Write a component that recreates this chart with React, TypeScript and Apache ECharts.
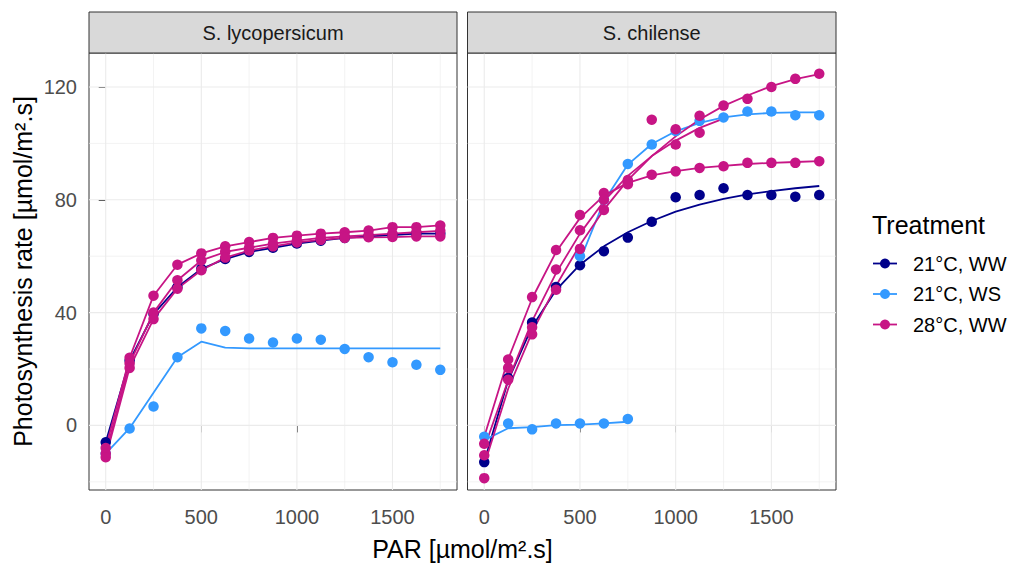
import React, { useEffect, useRef } from "react";
import * as echarts from "echarts";

const FONT = "'Liberation Sans', Arial, sans-serif";

// PAR levels (x)
const PAR = [0, 125, 250, 375, 500, 625, 750, 875, 1000, 1125, 1250, 1375, 1500, 1625, 1750];
const X_TICKS = [0, 500, 1000, 1500];
const X_MINOR = [250, 750, 1250, 1750];
const Y_TICKS = [0, 40, 80, 120];
const Y_MINOR = [-20, 20, 60, 100];
const PANELS = ["S. lycopersicum", "S. chilense"];
const TREATMENTS = ["21°C, WW", "21°C, WS", "28°C, WW"];
const COLORS = ["#00008B", "#3399FF", "#C71585"];

// ---- S. lycopersicum ----
const LY_WW = [-6, 23, 39.5, 49, 55.5, 59, 61.5, 63, 64.5, 65.5, 66.5, 67, 67.5, 68, 68];
const LY_WS_PTS = [-10, -1.1, 6.7, 24.2, 34.4, 33.5, 30.8, 29.4, 30.8, 30.4, 27.1, 24.2, 22.4, 21.5, 19.7];
const LY_WS_FIT = [-10, -1, 11.6, 24.2, 29.7, 27.6, 27.3, 27.3, 27.3, 27.3, 27.3, 27.3, 27.3, 27.3, 27.3];
const LY_HOT_A = [-8, 24, 46, 57, 61, 63.5, 65, 66.5, 67.3, 68, 68.5, 69.1, 70.3, 70.3, 70.9];
const LY_HOT_B = [-10, 22, 40, 51.5, 58.5, 61.5, 63, 64.5, 65.5, 66.5, 67, 67.5, 68, 68.5, 69];
const LY_HOT_C = [-11.3, 20.4, 37.7, 48.5, 55, 59.5, 62, 63.5, 64.9, 65.8, 66.5, 66.7, 66.8, 67, 67];

// ---- S. chilense ----
const CH_WW_PTS = [-13, 16.8, 36.5, 49.1, 56.8, 61.8, 66.6, 72.2, 80.9, 81.7, 84.1, 81.7, 81.7, 81.1, 81.7];
const CH_WW_FIT = [-13, 16, 35, 48, 57, 63.5, 68.5, 72.5, 75.8, 78.3, 80.3, 81.9, 83.1, 84.1, 84.9];
const CH_WS_LOW_PTS = [-4, 0.7, -1.4, 0.7, 0.7, 0.7, 2.3];
const CH_WS_LOW_FIT = [-5.2, -1, -0.6, 0.1, 0.3, 0.7, 1.3];
const CH_WS_HIGH_PTS = [null, null, null, null, 60, 80, 92.7, 99.6, 104.4, 108, 109.2, 111.3, 111.3, 110, 110];
const CH_WS_HIGH_FIT = [null, null, null, null, 58.5, 79.4, 92.5, 99.8, 104.3, 107.3, 109.2, 110.3, 110.8, 111, 111];
const CH_HOT_A_PTS = [-6.5, 23.4, 45.5, 62.2, 74.6, 82.4, 86, 88.9, 90.1, 91.3, 91.9, 93.1, 93.1, 93.1, 93.7];
const CH_HOT_A_FIT = [-4, 23.5, 45, 61.5, 73.5, 81.5, 86, 88.7, 90.2, 91.3, 92, 92.7, 93.1, 93.4, 93.7];
const CH_HOT_B_PTS = [-18.7, 16.2, 32.3, 48.1, 62.6, 76.4, 87, null, 105, 109.8, 113.4, 115.8, 120, 122.9, 124.7];
const CH_HOT_B_FIT = [-14, 13, 33, 49.5, 64, 76.5, 87, 95.5, 102.5, 108.5, 113.3, 117, 120.3, 122.8, 124.6];
const CH_HOT_C_PTS = [-10.6, 20.4, 34.8, 55.3, 69.2, 80, 85.5, 108.4, 99.6, 103.8];
const CH_HOT_C_FIT = [-8, 16, 37, 54, 68, 79.5, 88.5, 95.5, 101, 105.5, 108.8];

const X_MIN = -87.5;
const X_MAX = 1837.5;
const Y_MIN = -22.9;
const Y_MAX = 132.06;

type Group = { panel: number; t: number; pts: (number | null)[]; fit: (number | null)[] };

const GROUPS: Group[] = [
  { panel: 0, t: 0, pts: LY_WW, fit: LY_WW },
  { panel: 0, t: 1, pts: LY_WS_PTS, fit: LY_WS_FIT },
  { panel: 0, t: 2, pts: LY_HOT_A, fit: LY_HOT_A },
  { panel: 0, t: 2, pts: LY_HOT_B, fit: LY_HOT_B },
  { panel: 0, t: 2, pts: LY_HOT_C, fit: LY_HOT_C },
  { panel: 1, t: 0, pts: CH_WW_PTS, fit: CH_WW_FIT },
  { panel: 1, t: 1, pts: CH_WS_LOW_PTS, fit: CH_WS_LOW_FIT },
  { panel: 1, t: 1, pts: CH_WS_HIGH_PTS, fit: CH_WS_HIGH_FIT },
  { panel: 1, t: 2, pts: CH_HOT_A_PTS, fit: CH_HOT_A_FIT },
  { panel: 1, t: 2, pts: CH_HOT_B_PTS, fit: CH_HOT_B_FIT },
  { panel: 1, t: 2, pts: CH_HOT_C_PTS, fit: CH_HOT_C_FIT },
];

const GRID_LEFTS = [89, 467.5];
const GRID_WIDTHS = [368, 368.5];
const GRID_TOP = 53;
const GRID_H = 437;

function toData(arr: (number | null)[]) {
  const out: number[][] = [];
  arr.forEach((v, i) => {
    if (v !== null && v !== undefined) out.push([PAR[i], v]);
  });
  return out;
}

export default function App() {
  const ref = useRef<HTMLDivElement>(null);
  useEffect(() => {
    if (!ref.current) return;
    const chart = echarts.init(ref.current, undefined, { renderer: "svg" });

    const gridData: number[][] = [];
    X_TICKS.forEach((v) => gridData.push([0, v, 0]));
    X_MINOR.forEach((v) => gridData.push([0, v, 1]));
    Y_TICKS.forEach((v) => gridData.push([1, v, 0]));
    Y_MINOR.forEach((v) => gridData.push([1, v, 1]));

    const series: any[] = [];
    [0, 1].forEach((p) => {
      series.push({
        type: "custom",
        xAxisIndex: p,
        yAxisIndex: p,
        silent: true,
        z: 1,
        clip: true,
        data: gridData,
        renderItem: (_params: any, api: any) => {
          const o = api.value(0);
          const v = api.value(1);
          const minor = api.value(2);
          let a, b;
          if (o === 0) {
            a = api.coord([v, Y_MIN]);
            b = api.coord([v, Y_MAX]);
          } else {
            a = api.coord([X_MIN, v]);
            b = api.coord([X_MAX, v]);
          }
          return {
            type: "line",
            shape: { x1: a[0], y1: a[1], x2: b[0], y2: b[1] },
            style: { stroke: "#EBEBEB", lineWidth: minor ? 0.6 : 1.1 },
          };
        },
      });
    });

    [0, 1, 2].forEach((t) => {
      GROUPS.filter((g) => g.t === t).forEach((g) => {
        series.push({
          type: "scatter",
          xAxisIndex: g.panel,
          yAxisIndex: g.panel,
          data: toData(g.pts),
          symbol: "circle",
          symbolSize: 10.5,
          itemStyle: { color: COLORS[t], opacity: 1 },
          z: 2,
          silent: true,
        });
        series.push({
          type: "line",
          xAxisIndex: g.panel,
          yAxisIndex: g.panel,
          data: toData(g.fit),
          showSymbol: false,
          symbol: "none",
          lineStyle: { color: COLORS[t], width: 1.8 },
          z: 2,
          silent: true,
        });
      });
    });

    const graphic: any[] = [];
    [0, 1].forEach((p) => {
      graphic.push({
        type: "rect",
        shape: { x: GRID_LEFTS[p], y: 12, width: GRID_WIDTHS[p], height: GRID_TOP - 12 },
        style: { fill: "#D9D9D9", stroke: "#333333", lineWidth: 1 },
        z: 10,
      });
      graphic.push({
        type: "text",
        x: GRID_LEFTS[p] + GRID_WIDTHS[p] / 2,
        y: 33,
        style: {
          text: PANELS[p],
          fill: "#1A1A1A",
          font: `20px ${FONT}`,
          align: "center",
          verticalAlign: "middle",
        },
        z: 11,
      });
    });
    graphic.push({
      type: "text",
      x: 462.5,
      y: 549,
      style: { text: "PAR [µmol/m².s]", fill: "#000", font: `25px ${FONT}`, align: "center", verticalAlign: "middle" },
    });
    graphic.push({
      type: "text",
      x: 23,
      y: 271.5,
      rotation: Math.PI / 2,
      style: {
        text: "Photosynthesis rate [µmol/m².s]",
        fill: "#000",
        font: `25px ${FONT}`,
        align: "center",
        verticalAlign: "middle",
      },
    });
    graphic.push({
      type: "text",
      x: 872,
      y: 225,
      style: { text: "Treatment", fill: "#000", font: `25px ${FONT}`, align: "left", verticalAlign: "middle" },
    });
    const legendY = [263.5, 294, 324.5];
    TREATMENTS.forEach((name, i) => {
      graphic.push({
        type: "line",
        shape: { x1: 873, y1: legendY[i], x2: 897, y2: legendY[i] },
        style: { stroke: COLORS[i], lineWidth: 1.8 },
      });
      graphic.push({
        type: "circle",
        shape: { cx: 885, cy: legendY[i], r: 5 },
        style: { fill: COLORS[i] },
      });
      graphic.push({
        type: "text",
        x: 913,
        y: legendY[i],
        style: { text: name, fill: "#000", font: `20px ${FONT}`, align: "left", verticalAlign: "middle" },
      });
    });

    chart.setOption({
      animation: false,
      backgroundColor: "#FFFFFF",
      grid: [0, 1].map((p) => ({
        left: GRID_LEFTS[p],
        top: GRID_TOP,
        width: GRID_WIDTHS[p],
        height: GRID_H,
        show: true,
        borderColor: "#333333",
        borderWidth: 1,
        backgroundColor: "#FFFFFF",
        containLabel: false,
      })),
      xAxis: [0, 1].map((p) => ({
        type: "value",
        gridIndex: p,
        min: X_MIN,
        max: X_MAX,
        axisLine: { show: false },
        splitLine: { show: false },
        axisTick: { show: true, customValues: X_TICKS, length: 7, lineStyle: { color: "#333333", width: 1 } },
        axisLabel: {
          customValues: X_TICKS,
          margin: 17,
          color: "#4D4D4D",
          fontSize: 20,
          fontFamily: FONT,
          formatter: (v: number) => String(v),
        },
      })),
      yAxis: [0, 1].map((p) => ({
        type: "value",
        gridIndex: p,
        min: Y_MIN,
        max: Y_MAX,
        axisLine: { show: false },
        splitLine: { show: false },
        axisTick: { show: p === 0, customValues: Y_TICKS, length: 7, lineStyle: { color: "#333333", width: 1 } },
        axisLabel: {
          show: p === 0,
          customValues: Y_TICKS,
          margin: 12,
          color: "#4D4D4D",
          fontSize: 20,
          fontFamily: FONT,
          formatter: (v: number) => String(v),
        },
      })),
      series,
      graphic,
    });
    return () => chart.dispose();
  }, []);
  return <div ref={ref} style={{ position: "fixed", left: 0, top: 0, width: 1014, height: 563 }} />;
}
